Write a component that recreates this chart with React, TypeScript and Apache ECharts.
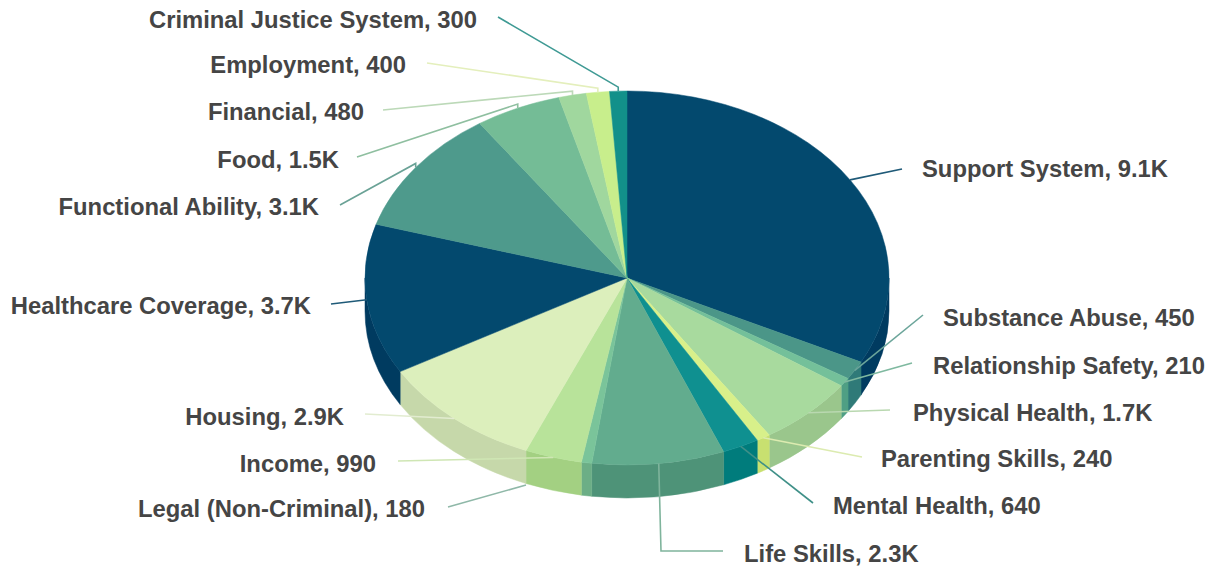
import React, { useEffect, useRef } from "react";
import * as echarts from "echarts";

const categories = ["Support System","Substance Abuse","Relationship Safety","Physical Health","Parenting Skills","Mental Health","Life Skills","Legal (Non-Criminal)","Income","Housing","Healthcare Coverage","Functional Ability","Food","Financial","Employment","Criminal Justice System"];
const values = [9140,450,210,1720,240,640,2300,180,990,2920,3660,3060,1500,480,400,300];
const topColors = ["#03496e","#4b9688","#74c09a","#a8da9e","#d8f08a","#0f9090","#62ac8e","#7ac49a","#b8e39a","#dcefbc","#03496e","#4e9a8c","#74bc96","#a0d79e","#c8ee8c","#12908a"];
const wallColors = ["#003b60","#2f7a78","#4f9f84","#9ac68c","#c8e070","#007c7c","#4e9378","#6cae86","#a3d082","#c6d8aa","#003b60","#3f8a7c","#60a884","#8cc48c","#b4dc7c","#0a7c78"];
const leaderColors = ["#1f5a78","#6ba59a","#7fb9a0","#b9d8b0","#dcebb0","#3f9088","#7fb49c","#8fb8a8","#cfe6b4","#e2ecd0","#1f5a78","#6aa296","#8fbfa0","#bcd9b8","#e4efbc","#3f9a94"];
const leaderEnds: number[][][] = [[[902,169]],[[923,315]],[[912,363]],[[890,410]],[[862,457]],[[813,503]],[[661,551],[723,551]],[[448,507]],[[398,461]],[[365,414]],[[331,304]],[[340,205]],[[357,157]],[[383,110]],[[427,63]],[[498,17]]];
const leaderVisibleFrom: Record<number, number[]> = { 7: [526,485] };
const labelAnchors: [number, number, "left" | "right"][] = [[922,168,"left"],[943,317,"left"],[933,365,"left"],[913,412,"left"],[881,458,"left"],[833,505,"left"],[744,553,"left"],[425,508,"right"],[376,463,"right"],[344,416,"right"],[311,305,"right"],[319,206,"right"],[339,159,"right"],[364,111,"right"],[406,64,"right"],[477,19,"right"]];

const CX = 627, CY = 278, RX = 262, RY = 187, DEPTH = 33;
const total = values.reduce((a, b) => a + b, 0);
const starts: number[] = [];
values.reduce((acc, v, i) => { starts[i] = acc; return acc + v; }, 0);
const ang = (v: number) => (v / total) * Math.PI * 2;
const px = (t: number) => CX + RX * Math.sin(t);
const py = (t: number, d = 0) => CY - RY * Math.cos(t) + d;
const fmt = (v: number) => (v >= 1000 ? (v / 1000).toFixed(1) + "K" : String(v));

function topPath(a: number, b: number) {
  const large = b - a > Math.PI ? 1 : 0;
  return `M${CX} ${CY}L${px(a)} ${py(a)}A${RX} ${RY} 0 ${large} 1 ${px(b)} ${py(b)}Z`;
}
function wallPath(a: number, b: number) {
  const lo = Math.max(a, Math.PI / 2), hi = Math.min(b, Math.PI * 1.5);
  if (hi <= lo) return null;
  return `M${px(lo)} ${py(lo)}A${RX} ${RY} 0 0 1 ${px(hi)} ${py(hi)}L${px(hi)} ${py(hi, DEPTH)}A${RX} ${RY} 0 0 0 ${px(lo)} ${py(lo, DEPTH)}Z`;
}

const rows = values.map((v) => [v]);

export default function App() {
  const ref = useRef<HTMLDivElement>(null);
  useEffect(() => {
    const chart = echarts.init(ref.current!, null, { renderer: "svg" });
    const base = { type: "custom", coordinateSystem: "none", silent: true, clip: false, data: rows };
    chart.setOption({
      animation: false,
      backgroundColor: "#ffffff",
      series: [
        {
          ...base,
          name: "walls",
          renderItem: (p: any, api: any) => {
            const i = p.dataIndex;
            const a = ang(starts[i]), b = a + ang(api.value(0));
            const d = wallPath(a, b);
            if (!d) return { type: "group", children: [] };
            return { type: "path", shape: { pathData: d }, style: { fill: wallColors[i], stroke: wallColors[i], lineWidth: 0.5 } };
          },
        },
        {
          ...base,
          name: "tops",
          renderItem: (p: any, api: any) => {
            const i = p.dataIndex;
            const a = ang(starts[i]), b = a + ang(api.value(0));
            return { type: "path", shape: { pathData: topPath(a, b) }, style: { fill: topColors[i], stroke: topColors[i], lineWidth: 0.5 } };
          },
        },
        {
          ...base,
          name: "labels",
          renderItem: (p: any, api: any) => {
            const i = p.dataIndex;
            const v = api.value(0);
            const mid = ang(starts[i] + v / 2);
            const rim = leaderVisibleFrom[i] || [px(mid), py(mid)];
            const hook = mid > Math.PI * 1.6 ? [[rim[0], rim[1] - 4]] : [];
            const pts = [rim, ...hook, ...leaderEnds[i]];
            const [x, y, align] = labelAnchors[i];
            return {
              type: "group",
              children: [
                { type: "polyline", shape: { points: pts }, style: { fill: "none", stroke: leaderColors[i], lineWidth: 1.6 } },
                {
                  type: "text",
                  style: {
                    text: `${categories[i]}, ${fmt(v)}`,
                    x, y,
                    textAlign: align,
                    verticalAlign: "middle",
                    font: 'bold 23.8px "Liberation Sans", Arial, sans-serif',
                    fill: "#454545",
                  },
                },
              ],
            };
          },
        },
      ],
    });
    return () => chart.dispose();
  }, []);
  return <div ref={ref} style={{ position: "fixed", left: 0, top: 0, width: 1217, height: 569 }} />;
}
